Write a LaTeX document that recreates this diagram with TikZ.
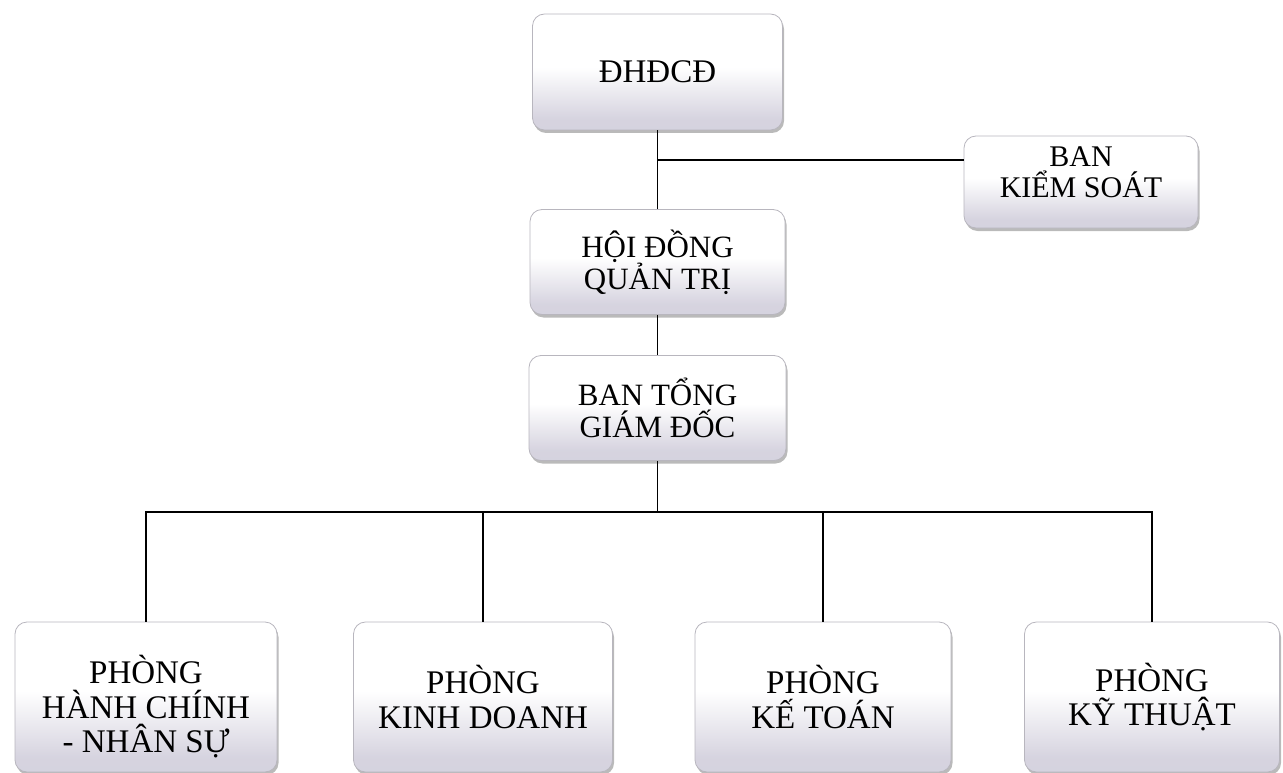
\documentclass[tikz,border=0pt]{standalone}
\usepackage{fontspec}
\setmainfont{Liberation Serif}
\usetikzlibrary{shadows}
\definecolor{lav}{HTML}{CFCCDA}
\definecolor{edgegray}{HTML}{B8B6BE}
\pgfdeclareverticalshading{boxfill}{100bp}{color(0bp)=(lav); color(30bp)=(lav!85!white); color(52bp)=(white); color(100bp)=(white)}
\tikzset{
  orgbox/.style={draw=edgegray, line width=0.8pt, rounded corners=12pt, shading=boxfill,
    align=center, inner sep=0pt, text=black,
    drop shadow={shadow xshift=1.5pt, shadow yshift=-3pt, opacity=0.45, fill=black!60}},
  bigtxt/.style={font=\fontsize{33}{34.5}\selectfont},
  midtxt/.style={font=\fontsize{31}{32}\selectfont},
  bkstxt/.style={font=\fontsize{30}{31}\selectfont, align=center, inner sep=0pt},
  conn/.style={line width=1.8pt, black}
}
\begin{document}
\begin{tikzpicture}[x=1pt,y=1pt]
\useasboundingbox (0,0) rectangle (1283,-773);
\node[orgbox, bigtxt, minimum width=250pt, minimum height=116pt] (dh) at (657.5,-72) {ĐHĐCĐ};
\node[orgbox, minimum width=234pt, minimum height=92pt] (bks) at (1081,-182) {};
\node[bkstxt] (bkst) at (1081,-172) {BAN\\KIỂM SOÁT};
\node[orgbox, midtxt, minimum width=255pt, minimum height=105pt] (hd) at (657.5,-262) {HỘI ĐỒNG\\QUẢN TRỊ};
\node[orgbox, midtxt, minimum width=257pt, minimum height=105pt] (bt) at (657.5,-408) {BAN TỔNG\\GIÁM ĐỐC};
\node[orgbox, minimum width=262pt, minimum height=150pt] (p1) at (146,-697) {};
\node[bigtxt, align=center, inner sep=0pt] (p1t) at (146,-707) {PHÒNG\\HÀNH CHÍNH\\- NHÂN SỰ};
\node[orgbox, bigtxt, minimum width=259pt, minimum height=150pt] (p2) at (483,-697) {PHÒNG\\KINH DOANH};
\node[orgbox, bigtxt, minimum width=256pt, minimum height=150pt] (p3) at (823,-697) {PHÒNG\\KẾ TOÁN};
\node[orgbox, bigtxt, minimum width=255pt, minimum height=150pt] (p4) at (1152,-697) {PHÒNG\\KỸ THUẬT};
\coordinate (j) at (657.5,-160);
\coordinate (bus) at (657.5,-512);
\draw[conn] (dh.south) -- (hd.north);
\draw[conn] (j) -- (j -| bks.west);
\draw[conn] (hd.south) -- (bt.north);
\draw[conn] (bt.south) -- (bus);
\draw[conn] (p1.north) -- (p1.north |- bus) -- (p4.north |- bus) -- (p4.north);
\draw[conn] (p2.north) -- (p2.north |- bus);
\draw[conn] (p3.north) -- (p3.north |- bus);
\end{tikzpicture}
\end{document}
